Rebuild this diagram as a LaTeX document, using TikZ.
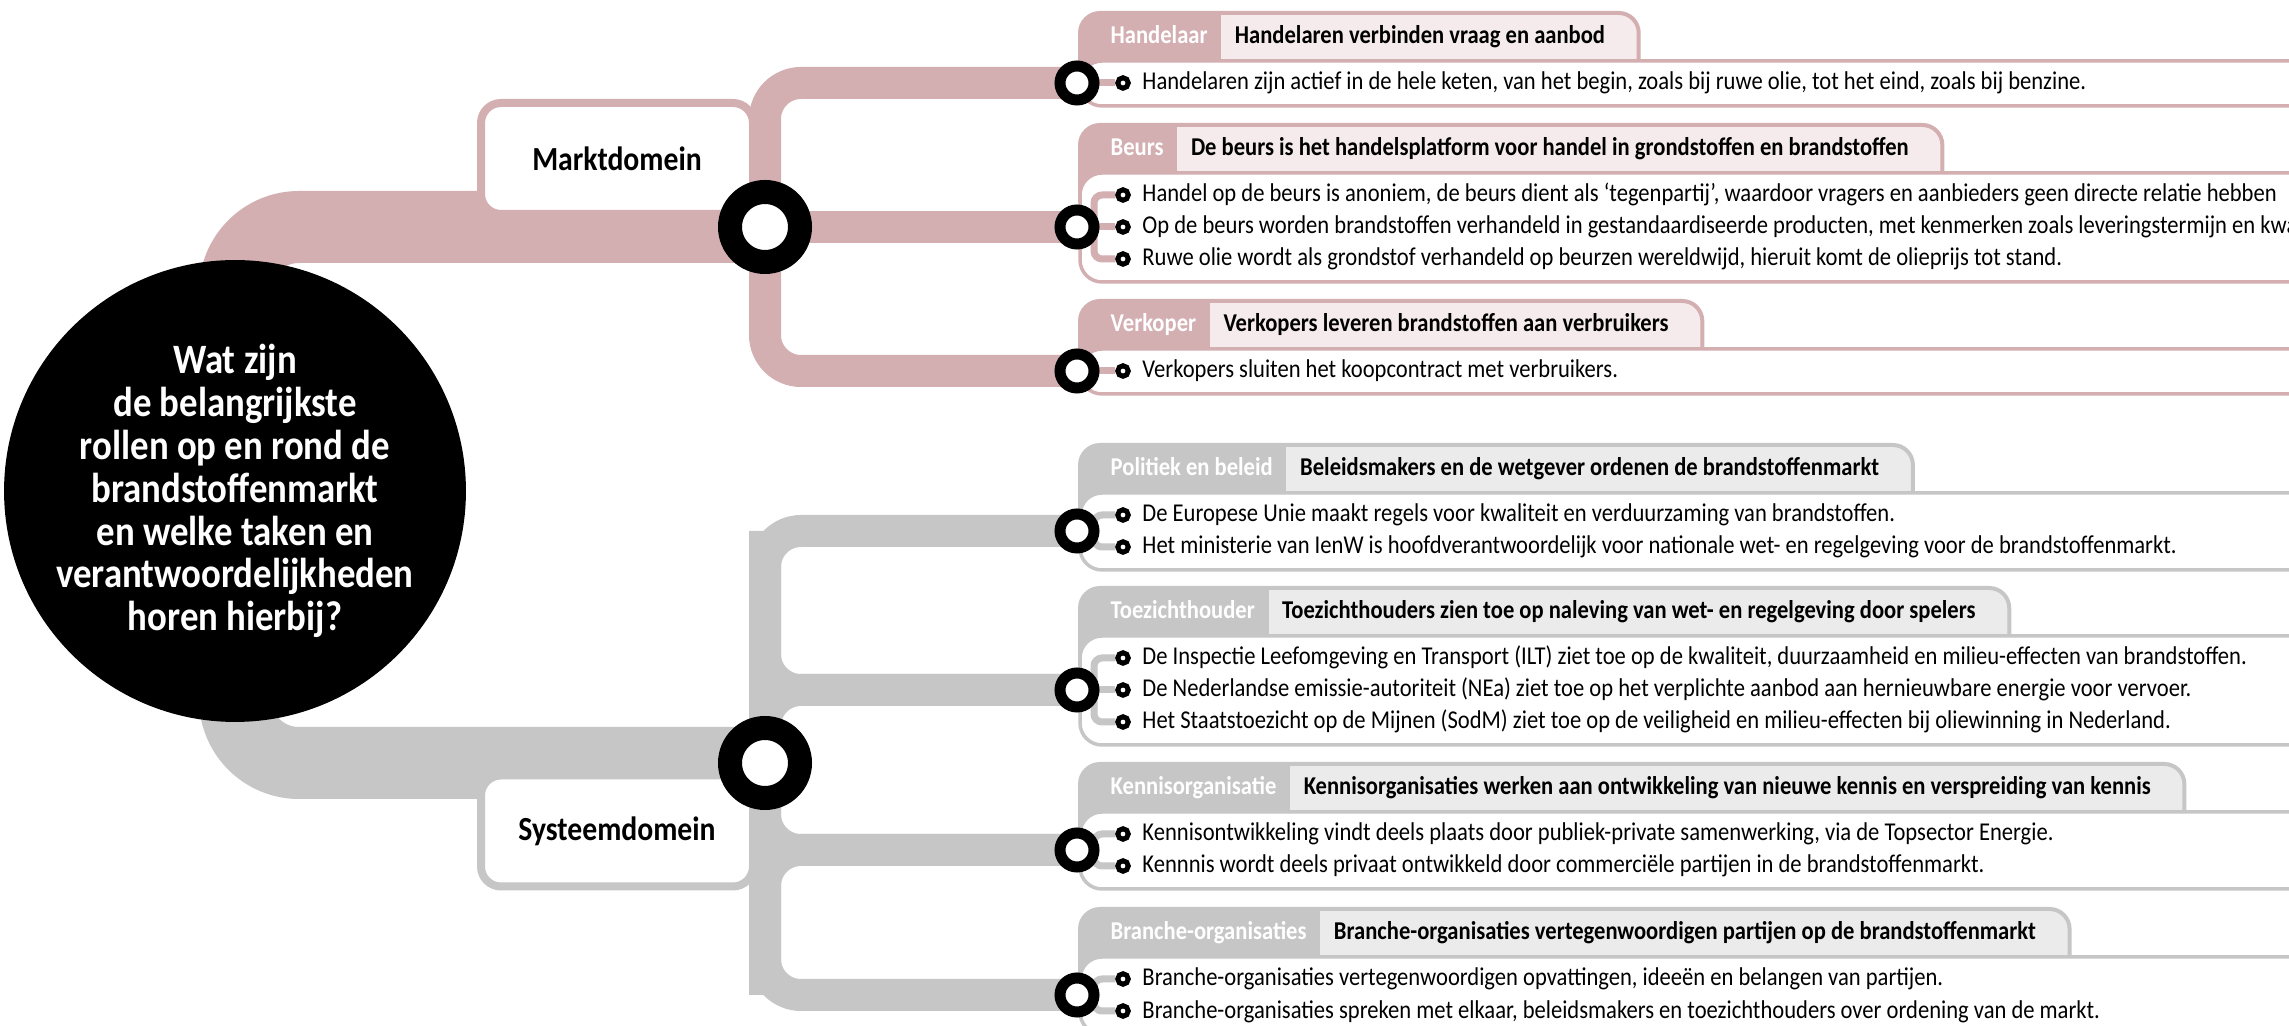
\documentclass[tikz,border=0pt]{standalone}
\usepackage{fontspec}
\setmainfont{Carlito}[FakeStretch=0.88]
\usetikzlibrary{positioning,calc}

\definecolor{markt}{RGB}{211,175,177}
\definecolor{marktlicht}{RGB}{245,235,236}
\definecolor{systeem}{RGB}{198,198,198}
\definecolor{systeemlicht}{RGB}{235,235,235}

\pgfdeclarelayer{achter}
\pgfsetlayers{achter,main}

\tikzset{
  tekst/.style={font=\fontsize{7.3}{9}\selectfont, inner sep=0pt,
    text height=0.19cm, text depth=0.05cm, anchor=west},
  tablabel/.style={tekst, font=\fontsize{7.3}{9}\selectfont\bfseries, text=white},
  tabtitel/.style={tekst, font=\fontsize{7.3}{9}\selectfont\bfseries},
  vraag/.style={circle, fill=black, minimum size=4.48cm, inner sep=0pt,
    text=white, align=center, font=\fontsize{11.9}{12.2}\selectfont\bfseries},
  domein/.style={draw=#1, line width=0.08cm, fill=white, rounded corners=0.2cm,
    minimum width=2.72cm, minimum height=1.11cm, inner sep=0pt,
    font=\fontsize{9.6}{11}\selectfont\bfseries},
  hub/.style={circle, draw=black, line width=0.24cm, fill=white,
    minimum size=0.70cm, inner sep=0pt},
  knot/.style={circle, draw=black, line width=0.11cm, fill=white,
    minimum size=0.34cm, inner sep=0pt},
  dot/.style={circle, draw=black, line width=0.05cm, fill=white,
    minimum size=0.105cm, inner sep=0pt},
  band/.style={draw=#1, line width=0.72cm, rounded corners=0.64cm},
  stam/.style={draw=#1, line width=0.32cm, rounded corners=0.36cm},
  lijn/.style={draw=#1, line width=0.07cm, rounded corners=0.08cm},
  haak/.style={to path={-- ++(0.17,0) |- (\tikztotarget)}},
  recht/.style={},
}

\begin{document}
\begin{tikzpicture}
\useasboundingbox (0,0) rectangle (22.89,-10.26);
\clip (0,0) rectangle (22.89,-10.26);

% hoofdvraag en domeinen
\node[vraag] (vraag) at (2.35,-4.91) {Wat zijn\\de belangrijkste\\rollen op en rond de\\brandstoffenmarkt\\en welke taken en\\verantwoordelijkheden\\horen hierbij?};
\node[domein=markt] (markt) at (6.17,-1.585) {Marktdomein};
\node[domein=systeem] (systeem) at (6.17,-8.31) {Systeemdomein};

% knooppunten
\node[hub] (hubM) at (7.65,-2.27) {};
\node[hub] (hubS) at (7.65,-7.63) {};
\node[knot] (kH) at (10.77,-0.83) {};
\node[knot] (kB) at (10.77,-2.27) {};
\node[knot] (kV) at (10.77,-3.71) {};
\node[knot] (kP) at (10.77,-5.31) {};
\node[knot] (kT) at (10.77,-6.90) {};
\node[knot] (kK) at (10.77,-8.50) {};
\node[knot] (kO) at (10.77,-9.95) {};

% tabbladen met kaders
\foreach \id/\kl/\lc/\yt/\yb/\lbl/\ttl in {
  H/markt/marktlicht/0.61/1.06/Handelaar/Handelaren verbinden vraag en aanbod,
  B/markt/marktlicht/1.73/2.82/Beurs/De beurs is het handelsplatform voor handel in grondstoffen en brandstoffen,
  V/markt/marktlicht/3.49/3.94/Verkoper/Verkopers leveren brandstoffen aan verbruikers,
  P/systeem/systeemlicht/4.93/5.70/Politiek en beleid/Beleidsmakers en de wetgever ordenen de brandstoffenmarkt,
  T/systeem/systeemlicht/6.36/7.45/Toezichthouder/Toezichthouders zien toe op naleving van wet- en regelgeving door spelers,
  K/systeem/systeemlicht/8.12/8.89/Kennisorganisatie/Kennisorganisaties werken aan ontwikkeling van nieuwe kennis en verspreiding van kennis,
  O/systeem/systeemlicht/9.57/10.34/Branche-organisaties/Branche-organisaties vertegenwoordigen partijen op de brandstoffenmarkt%
}{
  \node[tablabel] (\id-l) at (11.10,{-\yt+0.24}) {\lbl};
  \node[tabtitel, right=0.26cm of \id-l] (\id-t) {\ttl};
  \coordinate (\id-b) at ($(\id-l.east)+(0.13,0)$);
  \coordinate (\id-r) at ($(\id-t.east)+(0.33,0)$);
  \coordinate (\id-tl) at (10.80,{-\yt+0.48});
  \coordinate (\id-bl) at (10.80,{-\yt-0.3});
  \begin{pgfonlayer}{achter}
    \begin{scope}
      \clip[rounded corners=0.2cm] (\id-bl) -- (\id-tl) -- (\id-r |- \id-tl) -- (\id-r |- \id-bl) -- cycle;
      \fill[\lc] (\id-bl) rectangle (\id-r |- \id-tl);
      \fill[\kl] (\id-bl) rectangle (\id-b |- \id-tl);
    \end{scope}
    \draw[\kl, line width=0.04cm, rounded corners=0.2cm] (\id-bl) -- (\id-tl) -- (\id-r |- \id-tl) -- (\id-r |- \id-bl);
    \draw[\kl, line width=0.035cm, fill=white, rounded corners=0.22cm] (10.80,-\yt) rectangle (23.6,-\yb);
  \end{pgfonlayer}
}

% opsommingen
\foreach \k/\kn/\kl/\vorm/\y/\t in {
  1/kH/markt/recht/0.83/{Handelaren zijn actief in de hele keten, van het begin, zoals bij ruwe olie, tot het eind, zoals bij benzine.},
  2/kB/markt/haak/1.95/{Handel op de beurs is anoniem, de beurs dient als ‘tegenpartij’, waardoor vragers en aanbieders geen directe relatie hebben},
  3/kB/markt/recht/2.27/{Op de beurs worden brandstoffen verhandeld in gestandaardiseerde producten, met kenmerken zoals leveringstermijn en kwaliteit},
  4/kB/markt/haak/2.59/{Ruwe olie wordt als grondstof verhandeld op beurzen wereldwijd, hieruit komt de olieprijs tot stand.},
  5/kV/markt/recht/3.71/{Verkopers sluiten het koopcontract met verbruikers.},
  6/kP/systeem/haak/5.15/{De Europese Unie maakt regels voor kwaliteit en verduurzaming van brandstoffen.},
  7/kP/systeem/haak/5.47/{Het ministerie van IenW is hoofdverantwoordelijk voor nationale wet- en regelgeving voor de brandstoffenmarkt.},
  8/kT/systeem/haak/6.58/{De Inspectie Leefomgeving en Transport (ILT) ziet toe op de kwaliteit, duurzaamheid en milieu-effecten van brandstoffen.},
  9/kT/systeem/recht/6.90/{De Nederlandse emissie-autoriteit (NEa) ziet toe op het verplichte aanbod aan hernieuwbare energie voor vervoer.},
  10/kT/systeem/haak/7.22/{Het Staatstoezicht op de Mijnen (SodM) ziet toe op de veiligheid en milieu-effecten bij oliewinning in Nederland.},
  11/kK/systeem/haak/8.34/{Kennisontwikkeling vindt deels plaats door publiek-private samenwerking, via de Topsector Energie.},
  12/kK/systeem/haak/8.66/{Kennnis wordt deels privaat ontwikkeld door commerciële partijen in de brandstoffenmarkt.},
  13/kO/systeem/haak/9.79/{Branche-organisaties vertegenwoordigen opvattingen, ideeën en belangen van partijen.},
  14/kO/systeem/haak/10.11/{Branche-organisaties spreken met elkaar, beleidsmakers en toezichthouders over ordening van de markt.}%
}{
  \node[dot] (d\k) at (11.23,-\y) {};
  \node[tekst, right=0.11cm of d\k] (t\k) {\t};
  \begin{pgfonlayer}{achter}
    \draw[lijn=\kl] (\kn.center) to[\vorm] (d\k);
  \end{pgfonlayer}
}

% banden en stammen
\begin{pgfonlayer}{achter}
  \draw[band=markt] (vraag.center) |- (hubM.center);
  \draw[band=systeem] (vraag.center) |- (hubS.center);
  \draw[stam=markt] (kH.center) -| (kV -| hubM) -- (kV.center);
  \draw[stam=markt] (hubM.center) -- (kB.center);
  \draw[stam=systeem] (kP.center) -| (kO -| hubS) -- (kO.center);
  \draw[stam=systeem] (hubS.center) |- (kT.center);
  \draw[stam=systeem] (kP -| hubS) |- (kT.center);
  \draw[stam=systeem] (hubS.center) |- (kK.center);
  \draw[stam=systeem] (kO -| hubS) |- (kK.center);
\end{pgfonlayer}
\end{tikzpicture}
\end{document}
